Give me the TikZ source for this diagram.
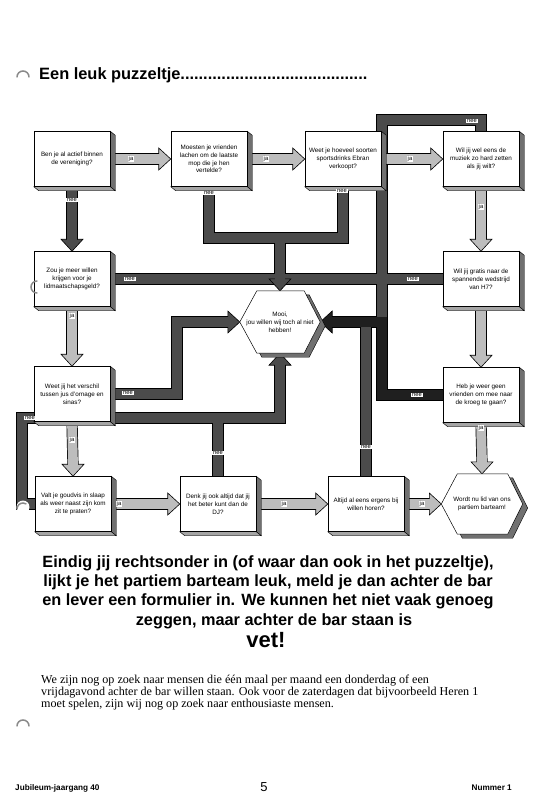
\documentclass[tikz,border=0pt]{standalone}
\usepackage{fontspec}
\setmainfont{Liberation Serif}
\setsansfont{Liberation Sans}
\usetikzlibrary{calc}
\pgfdeclarelayer{bg}
\pgfdeclarelayer{mid}
\pgfsetlayers{bg,mid,main}
\definecolor{jagray}{HTML}{BDBDBD}
\definecolor{neegray}{HTML}{4B4B4B}
\definecolor{needark}{HTML}{1F1F1F}
\definecolor{sidegray}{HTML}{707070}
\definecolor{botgray}{HTML}{A5A5A5}
\definecolor{punch}{HTML}{8A8A8A}
% block arrow head: #1 colour, #2 tip, #3 direction (0 right, 90 down, 180 left, 270 up)
\newcommand\bhead[3]{%
  \filldraw[fill=#1, draw=black, line width=0.6pt, line join=miter] #2 -- ($#2+({#3+180}:12)+({#3+90}:11)$) -- ($#2+({#3+180}:12)+({#3-90}:11)$) -- cycle;
  \draw[line width=9.8pt, #1] ($#2+({#3+180}:19)$) -- ($#2+({#3+180}:11)$);
}
\newcommand\jarrow[3]{%
  \draw[line width=11.2pt, black] #1 -- ($#2+({#3+180}:11)$);
  \draw[line width=9.8pt, jagray] #1 -- ($#2+({#3+180}:11)$);
  \bhead{jagray}{#2}{#3}%
}
\newcommand\extrude[1]{%
  \filldraw[fill=sidegray, draw=black, line width=0.4pt] (#1.north east) -- ($(#1.north east)+(5,4)$) -- ($(#1.south east)+(5,4)$) -- (#1.south east) -- cycle;
  \filldraw[fill=botgray, draw=black, line width=0.4pt] (#1.south west) -- ($(#1.south west)+(5,4)$) -- ($(#1.south east)+(5,4)$) -- (#1.south east) -- cycle;
}
\newcommand\hexface[3]{%
  \filldraw[fill=sidegray, draw=black, line width=0.4pt] ($(#1.west)+(5,4)$) -- ($(#1.north west)+(#2+5,4)$) -- ($(#1.north east)+(-#3+5,4)$) -- ($(#1.east)+(5,4)$) -- ($(#1.south east)+(-#3+5,4)$) -- ($(#1.south west)+(#2+5,4)$) -- cycle;
  \filldraw[fill=white, draw=black, line width=0.5pt] (#1.west) -- ($(#1.north west)+(#2,0)$) -- ($(#1.north east)+(-#3,0)$) -- (#1.east) -- ($(#1.south east)+(-#3,0)$) -- ($(#1.south west)+(#2,0)$) -- cycle;
}
\newcommand\NeeA{(b1.south) -- ($(b5.north)+(0,-11)$)}
\newcommand\NeeB{(b2.south) -- (b2.south |- jA) -- (jA)}
\newcommand\NeeC{(b3.south) -- (b3.south |- jA) -- (jA)}
\newcommand\NeeD{(jA) -- ($(h1.north)+(0,-11)$)}
\newcommand\NeeE{(b5.east) -- (b6.west)}
\newcommand\NeeF{(b4.north) -- (b4.north |- fT) -- (fT) -- (fM)}
\newcommand\NeeH{(b11.north) -- (b11.north |- fM)}
\newcommand\NeeG{(b8.west) -- (b8.west -| fM) -- (fM) -- ($(h1.east)+(11,0)$)}
\newcommand\NeeI{(b7.east) -- (b7.east -| iC) -- (iC) -- ($(h1.west)+(-11,0)$)}
\newcommand\NeeJ{(b9.west) -- (b9.west -| jL) -- (jL) -- (jR) -- ($(h1.south)+(0,11)$)}
\newcommand\NeeK{(b10.north) -- (b10.north |- jR)}
\begin{document}
\begin{tikzpicture}[x=1pt,y=-1pt,
  qbox/.style={draw=black, line width=0.5pt, fill=white, minimum width=76pt, minimum height=55pt, inner sep=1pt, align=center, font=\sffamily\fontsize{6.3}{7.8}\selectfont},
  hexn/.style={minimum width=80pt, minimum height=62pt, inner sep=0pt, align=center, font=\sffamily\fontsize{6.3}{7.8}\selectfont},
  lbl/.style={fill=white, inner sep=0.7pt, font=\sffamily\fontsize{5.8}{6}\selectfont},
  nout/.style={line width=11.2pt, draw=black, line join=miter},
  nfill/.style={line width=9.8pt, line join=miter},
  bigtxt/.style={anchor=base, inner sep=0pt, font=\sffamily\bfseries\fontsize{16.3}{19}\selectfont},
  para/.style={anchor=base west, inner sep=0pt, font=\fontsize{12.1}{12}\selectfont},
  foot/.style={inner sep=0pt, font=\sffamily\bfseries\fontsize{8.2}{9}\selectfont},
  punchmark/.style={draw=punch, line width=1.5pt, line cap=round}]
\useasboundingbox (0,0) rectangle (549,800);
\begin{pgfonlayer}{bg}
\fill[white] (0,0) rectangle (549,800);
\end{pgfonlayer}

% title
\node[anchor=base west, inner sep=0pt, font=\sffamily\bfseries\fontsize{16.4}{18}\selectfont] (title) at (39,79) {Een leuk puzzeltje.........................................};

% question boxes
\node[qbox] (b1) at (72,159) {Ben je al actief binnen\\de vereniging?};
\node[qbox] (b2) at (209,159) {Moesten je vrienden\\lachen om de laatste\\mop die je hen\\vertelde?};
\node[qbox] (b3) at (343,159) {Weet je hoeveel soorten\\sportsdrinks Ebran\\verkoopt?};
\node[qbox] (b4) at (481,159) {Wil jij wel eens de\\muziek zo hard zetten\\als jij wilt?};
\node[qbox] (b5) at (72,279) {Zou je meer willen\\krijgen voor je\\lidmaatschapsgeld?};
\node[hexn] (h1) at (280,322) {Mooi,\\jou willen wij toch al niet\\hebben!};
\node[qbox] (b6) at (481,279) {Wil jij gratis naar de\\spannende wedstrijd\\van H7?};
\node[qbox] (b7) at (72,394) {Weet jij het verschil\\tussen jus d'ornage en\\sinas?};
\node[qbox] (b8) at (481,395) {Heb je weer geen\\vrienden om mee naar\\de kroeg te gaan?};
\node[qbox] (b9) at (73,504) {Valt je goudvis in slaap\\als weer naast zijn kom\\zit te praten?};
\node[qbox] (b10) at (218,504) {Denk jij ook altijd dat jij\\het beter kunt dan de\\DJ?};
\node[qbox] (b11) at (366,504) {Altijd al eens ergens bij\\willen horen?};
\node[hexn, minimum width=81pt, minimum height=60pt] (h2) at (482,504) {Wordt nu lid van ons\\partiem barteam!};

% bend points
\coordinate (jA) at (280,238);
\coordinate (fT) at (382,120);
\coordinate (fM) at (382,322);
\coordinate (iC) at (177,322);
\coordinate (jL) at (22,418);
\coordinate (jR) at (280,418);

\begin{pgfonlayer}{bg}
% "nee" paths: outlines
\draw[nout] \NeeA; \draw[nout] \NeeB; \draw[nout] \NeeC; \draw[nout] \NeeD;
\draw[nout] \NeeE; \draw[nout] \NeeF; \draw[nout] \NeeH; \draw[nout] \NeeG;
\draw[nout] \NeeI; \draw[nout] \NeeJ; \draw[nout] \NeeK;
% fills
\draw[nfill, neegray] \NeeA; \draw[nfill, neegray] \NeeB; \draw[nfill, neegray] \NeeC;
\draw[nfill, neegray] \NeeD; \draw[nfill, neegray] \NeeE; \draw[nfill, neegray] \NeeF;
\draw[nfill, neegray] \NeeH; \draw[nfill, needark] \NeeG; \draw[nfill, neegray] \NeeI;
\draw[nfill, neegray] \NeeJ; \draw[nfill, neegray] \NeeK;
% heads
\bhead{neegray}{(b5.north)}{90}
\bhead{neegray}{(h1.north)}{90}
\bhead{needark}{(h1.east)}{180}
\bhead{neegray}{(h1.west)}{0}
\bhead{neegray}{(h1.south)}{270}
% "ja" arrows
\jarrow{(b1.east)}{(b2.west)}{0}
\jarrow{(b2.east)}{(b3.west)}{0}
\jarrow{(b3.east)}{(b4.west)}{0}
\jarrow{(b4.south)}{(b6.north)}{90}
\jarrow{(b6.south)}{(b8.north)}{90}
\jarrow{(b8.south)}{(h2.north)}{90}
\jarrow{(b5.south)}{(b7.north)}{90}
\jarrow{(b7.south)}{(b9.north)}{90}
\jarrow{(b9.east)}{(b10.west)}{0}
\jarrow{(b10.east)}{(b11.west)}{0}
\jarrow{(b11.east)}{(h2.west)}{0}
\end{pgfonlayer}

\begin{pgfonlayer}{mid}
\extrude{b1}\extrude{b2}\extrude{b3}\extrude{b4}\extrude{b5}\extrude{b6}
\extrude{b7}\extrude{b8}\extrude{b9}\extrude{b10}\extrude{b11}
\hexface{h1}{17}{16}
\hexface{h2}{16}{15}
\end{pgfonlayer}

% labels
\node[lbl] (n1) at (72,200) {nee};
\node[lbl] (n2) at (209,193) {nee};
\node[lbl] (n3) at (342,191) {nee};
\node[lbl] (n4) at (472,121) {nee};
\node[lbl] (n5) at (130,279) {nee};
\node[lbl] (n6) at (413,279) {nee};
\node[lbl] (n7) at (128,393) {nee};
\node[lbl] (n8) at (417,395) {nee};
\node[lbl] (n9) at (30,418) {nee};
\node[lbl] (n10) at (218,453) {nee};
\node[lbl] (n11) at (366,447) {nee};
\node[lbl] (j1) at (131,159) {ja};
\node[lbl] (j2) at (266,159) {ja};
\node[lbl] (j3) at (410,159) {ja};
\node[lbl] (j4) at (481,207) {ja};
\node[lbl] (j5) at (481,428) {ja};
\node[lbl] (j6) at (72,316) {ja};
\node[lbl] (j7) at (72,440) {ja};
\node[lbl] (j8) at (119,504) {ja};
\node[lbl] (j9) at (284,504) {ja};
\node[lbl] (j10) at (422,504) {ja};

% punch holes
\draw[punchmark] (17,77) arc[start angle=180, end angle=360, radius=6];
\draw[punchmark] (37,281) arc[start angle=270, end angle=90, radius=6];
\fill[white] (23,507) circle (6.5);
\draw[punchmark] (17,509) arc[start angle=180, end angle=300, radius=6];
\draw[punchmark] (17,726) arc[start angle=180, end angle=360, radius=6];

% big text
\node[bigtxt] (t1) at (268,567) {Eindig jij rechtsonder in (of waar dan ook in het puzzeltje),};
\node[bigtxt] (t2) at (268,586) {lijkt je het partiem barteam leuk, meld je dan achter de bar};
\node[bigtxt] (t3) at (268,605.5) {en lever een formulier in. We kunnen het niet vaak genoeg};
\node[bigtxt] (t4) at (274,625) {zeggen, maar achter de bar staan is};
\node[bigtxt, font=\sffamily\bfseries\fontsize{22}{24}\selectfont] (t5) at (266,647) {vet!};

% paragraph
\node[para] (p1) at (41,683.5) {We zijn nog op zoek naar mensen die één maal per maand een donderdag of een};
\node[para] (p2) at (41,695.5) {vrijdagavond achter de bar willen staan. Ook voor de zaterdagen dat bijvoorbeeld Heren 1};
\node[para] (p3) at (41,707.5) {moet spelen, zijn wij nog op zoek naar enthousiaste mensen.};

% footer
\node[foot, anchor=base west] (f1) at (15,790) {Jubileum-jaargang 40};
\node[inner sep=0pt, anchor=base, font=\sffamily\fontsize{13}{14}\selectfont] (f2) at (264,791) {5};
\node[foot, anchor=base east] (f3) at (512,790) {Nummer 1};
\end{tikzpicture}
\end{document}
